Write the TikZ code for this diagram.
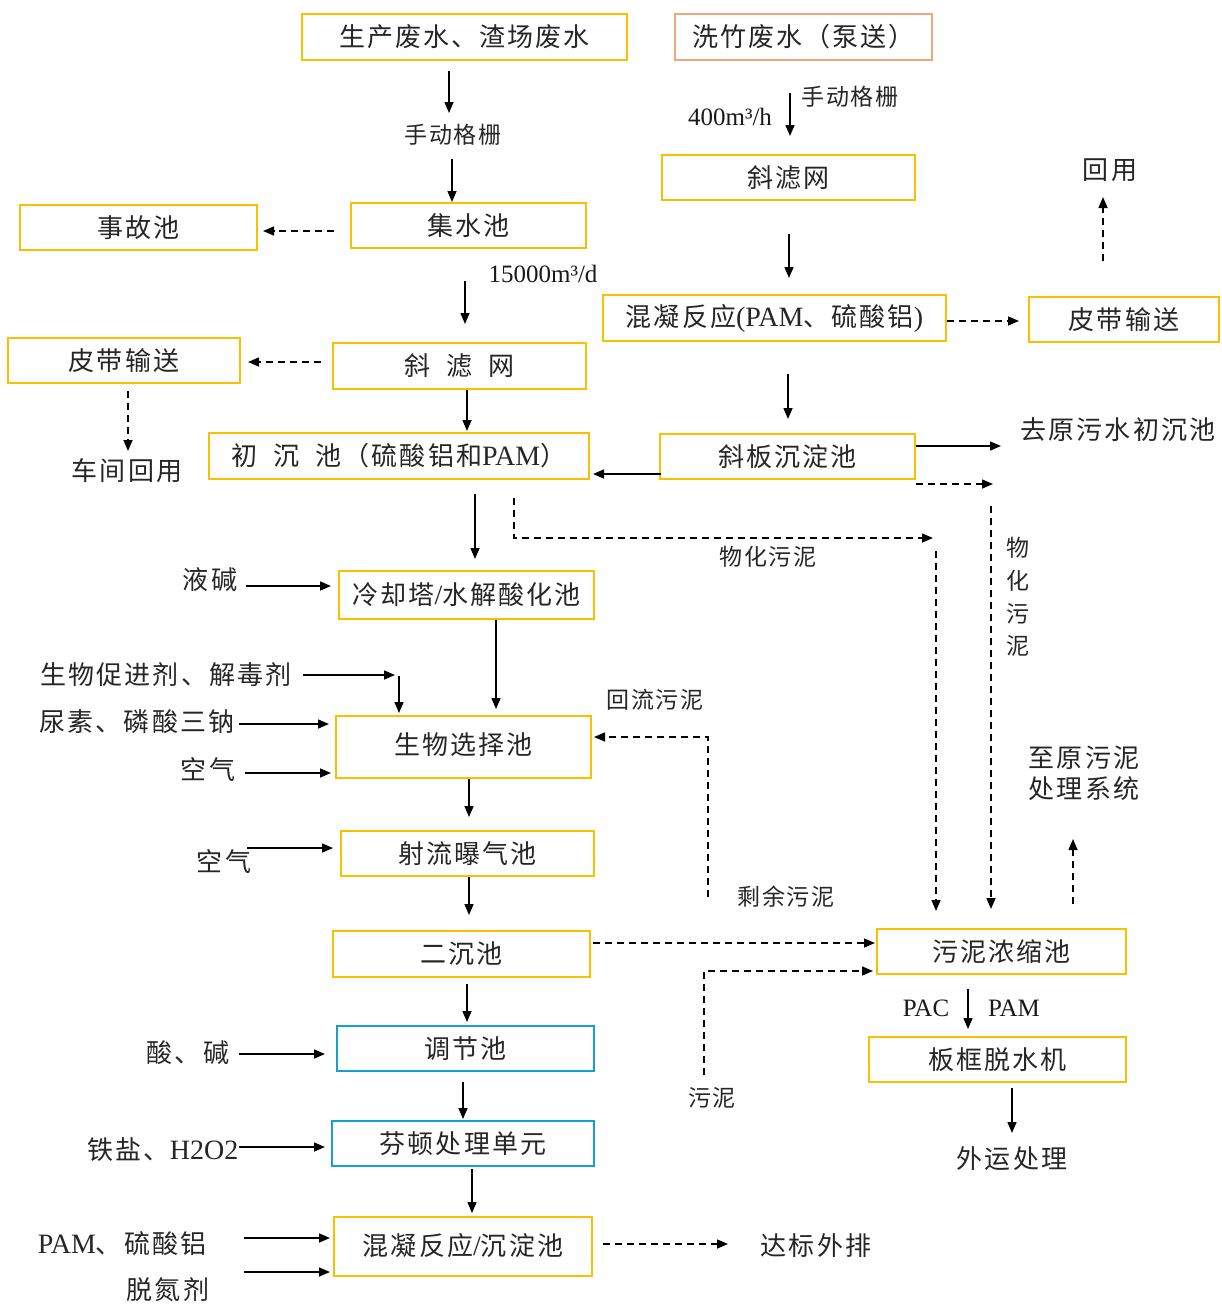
\documentclass[tikz,border=0pt]{standalone}
\usepackage{fontspec}
\setmainfont{Liberation Serif}
\newfontfamily\cjk[LetterSpace=8]{Noto Sans CJK SC}
\usetikzlibrary{arrows.meta,calc}
\definecolor{ylw}{RGB}{250,192,0}
\definecolor{blu}{RGB}{20,160,210}
\definecolor{sal}{RGB}{240,165,125}
\newcommand\zfont{\cjk\fontsize{26}{31}\selectfont}
\newcommand\sfont{\cjk\fontsize{23}{32.7}\selectfont}
\newcommand\lfont{\rmfamily\fontsize{25}{29}\selectfont}
\newcommand\lat[1]{{\rmfamily\fontsize{28}{31}\selectfont #1}}
\begin{document}
\begin{tikzpicture}[x=1pt,y=-1pt,
  box/.style={draw=ylw,line width=2pt,inner sep=0pt,font=\zfont,text=black!85},
  bbox/.style={box,draw=blu},
  lbl/.style={inner sep=1pt,font=\zfont,text=black!85},
  slbl/.style={inner sep=1pt,font=\sfont,text=black!85},
  latl/.style={inner sep=1pt,font=\lfont,text=black!90},
  arr/.style={line width=1.5pt,-{Triangle[length=11pt,width=9pt]}},
  darr/.style={arr,dash pattern=on 7pt off 5pt}]
\fill[white] (0,0) rectangle (1222,1304);
\useasboundingbox (0,0) rectangle (1222,1304);

% ---- boxes ----
\node[box,minimum width=325pt,minimum height=46pt] (sc) at (464.5,37) {生产废水、渣场废水};
\node[box,draw=sal,minimum width=257pt,minimum height=46pt] (xz) at (803.5,37) {洗竹废水（泵送）};
\node[box,minimum width=237pt,minimum height=45pt] (sg) at (138.5,227.5) {事故池};
\node[box,minimum width=235pt,minimum height=45pt] (js) at (468.5,225.5) {集水池};
\node[box,minimum width=232pt,minimum height=45pt] (pd1) at (124,360.5) {皮带输送};
\node[box,minimum width=253pt,minimum height=46pt] (xl1) at (459.5,366) {斜\hspace{16pt}滤\hspace{16pt}网};
\node[box,minimum width=380pt,minimum height=46pt] (cc) at (399,456) {初\hspace{16pt}沉\hspace{16pt}池（硫酸铝和\lat{PAM}）};
\node[box,minimum width=253pt,minimum height=45pt] (xl2) at (788.5,177.5) {斜滤网};
\node[box,minimum width=343pt,minimum height=46pt] (hn1) at (774.5,318) {混凝反应\lat{(PAM}、硫酸铝\lat{)}};
\node[box,minimum width=190pt,minimum height=45pt] (pd2) at (1124,319.5) {皮带输送};
\node[box,minimum width=255pt,minimum height=45pt] (xb) at (787.5,456.5) {斜板沉淀池};
\node[box,minimum width=255pt,minimum height=48pt] (lq) at (466.5,595) {冷却塔\lat{/}水解酸化池};
\node[box,minimum width=255pt,minimum height=62pt] (sw) at (463.5,747) {\raisebox{6pt}{生物选择池}};
\node[box,minimum width=253pt,minimum height=45pt] (sl) at (467.5,853.5) {射流曝气池};
\node[box,minimum width=257pt,minimum height=46pt] (ec) at (461.5,954) {二沉池};
\node[bbox,minimum width=257pt,minimum height=45pt] (tj) at (465.5,1048.5) {调节池};
\node[bbox,minimum width=262pt,minimum height=45pt] (ft) at (463,1143.5) {芬顿处理单元};
\node[box,minimum width=258pt,minimum height=59pt] (hn2) at (463,1246.5) {\raisebox{4pt}{混凝反应\lat{/}沉淀池}};
\node[box,minimum width=249pt,minimum height=45pt] (ns) at (1001.5,951.5) {污泥浓缩池};
\node[box,minimum width=257pt,minimum height=45pt] (bk) at (997.5,1059.5) {板框脱水机};

% ---- labels ----
\node[slbl] (g1) at (453,135) {手动格栅};
\node[slbl] (g2) at (850,97) {手动格栅};
\node[latl] (q1) at (730,117) {400m³/h};
\node[latl] (q2) at (543,274) {15000m³/d};
\node[lbl] (hy) at (1110,170) {回用};
\node[lbl] (cj) at (127,471) {车间回用};
\node[lbl] (qy) at (1118,430) {去原污水初沉池};
\node[slbl] (wh1) at (768,557) {物化污泥};
\node[slbl,align=center] (wh2) at (1018,597) {物\\化\\污\\泥};
\node[lbl] (yj) at (210,580) {液碱};
\node[lbl] (sw1) at (166,675) {生物促进剂、解毒剂};
\node[lbl] (sw2) at (137,722) {尿素、磷酸三钠};
\node[lbl] (kq1) at (208,770) {空气};
\node[lbl] (kq2) at (224,862) {空气};
\node[slbl] (hl) at (655,700) {回流污泥};
\node[slbl] (sy) at (786,897) {剩余污泥};
\node[lbl,align=center] (zy) at (1084,773) {至原污泥\\处理系统};
\node[lbl] (sj) at (188,1053) {酸、碱};
\node[lbl] (tx) at (163,1150) {铁盐、\lat{H2O2}};
\node[lbl] (pm) at (122,1244) {\lat{PAM}、硫酸铝};
\node[lbl] (td) at (168,1290) {脱氮剂};
\node[lbl] (db) at (816,1246) {达标外排};
\node[latl] (pac) at (926,1008) {PAC};
\node[latl] (pam2) at (1014,1008) {PAM};
\node[slbl] (wn) at (712,1098) {污泥};
\node[lbl] (wy) at (1012,1159) {外运处理};

% ---- connectors: left column ----
\draw[arr] ($(sc.south)+(-15.5,10)$) -- ++(0,42);
\draw[arr] ($(js.north)+(-16.5,-43)$) -- ([xshift=-16.5pt]js.north);
\draw[darr] ($(js.west)+(-16,5.5)$) -- ($(sg.east)+(5,3.5)$);
\draw[arr] ($(xl1.north)+(5.5,-61)$) -- ($(xl1.north)+(5.5,-18)$);
\draw[darr] ($(xl1.west)+(-11,-4)$) -- ($(pd1.east)+(7,1.5)$);
\draw[darr] ($(pd1.south)+(4,7)$) -- ++(0,60);
\draw[arr] ([xshift=7.5pt]xl1.south) -- ($(cc.north)+(68,-1)$);
% right column
\draw[arr] ($(xz.south)+(-13.5,32)$) -- ($(xl2.north)+(1.5,-18)$);
\draw[arr] ($(xl2.south)+(0.5,33)$) -- ++(0,44);
\draw[darr] ($(hn1.east)+(0,3)$) -- ($(pd2.west)+(-9,1.5)$);
\draw[darr] ($(pd2.north)+(-21,-35)$) -- ++(0,-64);
\draw[arr] ($(hn1.south)+(13.5,32)$) -- ++(0,45);
\draw[arr] ($(xb.west)+(2,17.5)$) -- ($(cc.east)+(3,18)$);
\draw[arr] ($(xb.east)+(0,-10.5)$) -- ++(85,0);
\draw[darr] ($(xb.east)+(0,27.5)$) -- ++(77,0);
\draw[darr] ($(ns.north)+(-10.5,-422)$) -- ($(ns.north)+(-10.5,-19)$);
\draw[darr] ($(cc.south)+(115,18)$) -- ++(0,40) -- ++(419,0);
\draw[darr] ($(ns.north)+(-65.5,-377)$) -- ($(ns.north)+(-65.5,-17)$);
% main line
\draw[arr] ($(cc.south)+(76,14)$) -- ($(lq.north)+(8.5,-11)$);
\draw[arr] ($(lq.west)+(-92,-9)$) -- ($(lq.west)+(-7,-9)$);
\draw[arr] ([xshift=29.5pt]lq.south) -- ($(sw.north)+(32.5,-6)$);
\draw[arr] ($(sw.north)+(-160.5,-40)$) -- ++(92,0);
\draw[arr] ($(sw.north)+(-64.5,-39)$) -- ($(sw.north)+(-64.5,-2)$);
\draw[arr] ($(sw.west)+(-96,-23)$) -- ($(sw.west)+(-6,-23)$);
\draw[arr] ($(sw.west)+(-90,26)$) -- ($(sw.west)+(-4,26)$);
\draw[arr] ([xshift=5.5pt]sw.south) -- ++(0,38);
\draw[arr] ($(sl.west)+(-93,-5.5)$) -- ($(sl.west)+(-7,-5.5)$);
\draw[arr] ([xshift=1.5pt]sl.south) -- ++(0,38);
\draw[arr] ($(ec.south)+(5.5,6)$) -- ++(0,38);
\draw[darr] ($(ec.east)+(2,-11)$) -- ($(ns.west)+(-1,-8.5)$);
\draw[arr] ($(tj.west)+(-97,5.5)$) -- ($(tj.west)+(-11,5.5)$);
\draw[arr] ($(tj.south)+(-2.5,10)$) -- ($(ft.north)+(0,-1)$);
\draw[arr] ($(ft.west)+(-92,3.5)$) -- ($(ft.west)+(-6,3.5)$);
\draw[arr] ($(ft.south)+(9,2)$) -- ++(0,44);
\draw[arr] ($(hn2.west)+(-89,-8.5)$) -- ($(hn2.west)+(-3,-8.5)$);
\draw[arr] ($(hn2.west)+(-89,25.5)$) -- ($(hn2.west)+(-3,25.5)$);
\draw[darr] ($(hn2.east)+(10,-2.5)$) -- ++(125,0);
% sludge
\draw[darr] ($(sw.east)+(116,150)$) |- ($(sw.east)+(2,-10)$);
\draw[darr] ($(ns.west)+(-172,123.5)$) |- ($(ns.west)+(-3,19.5)$);
\draw[darr] ($(ns.north)+(71.5,-24)$) -- ++(0,-65);
\draw[arr] ($(ns.south)+(-33.5,14)$) -- ($(bk.north)+(-29.5,-7)$);
\draw[arr] ($(bk.south)+(14.5,5)$) -- ++(0,45);
\end{tikzpicture}
\end{document}
